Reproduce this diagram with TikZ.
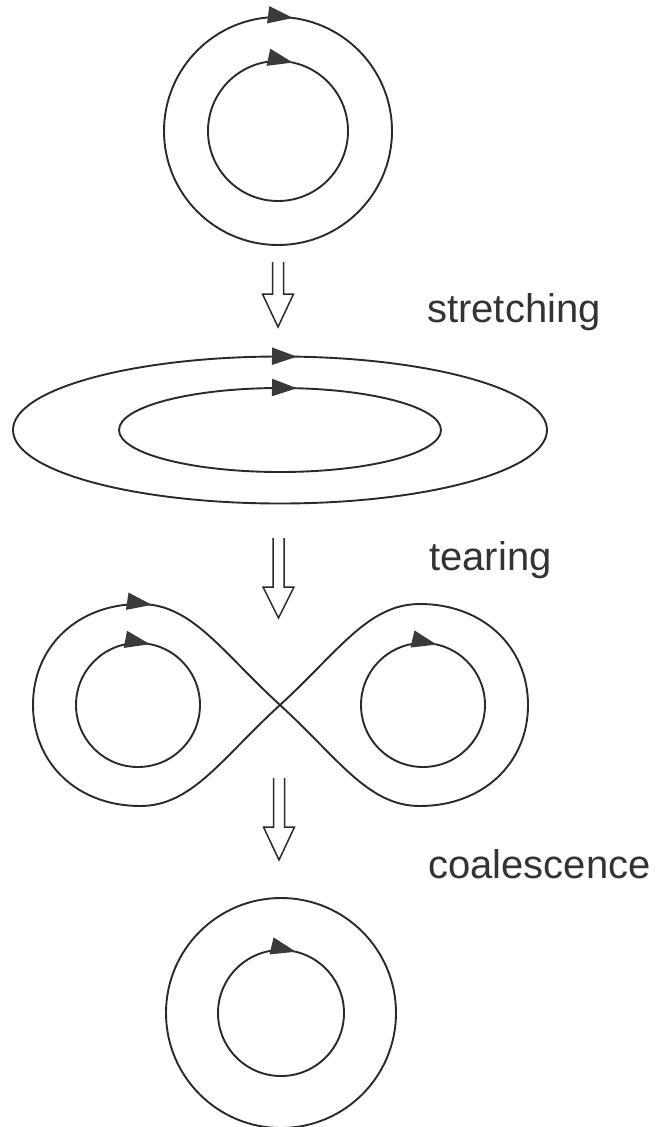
\documentclass[tikz,border=0pt]{standalone}
\usepackage{fontspec}
\setmainfont{Liberation Sans}
\usetikzlibrary{arrows.meta,decorations.markings}
\definecolor{ink}{HTML}{2A2A2A}
\definecolor{headink}{HTML}{3A3A3A}
\definecolor{txt}{HTML}{333333}
\tikzset{
  curve/.style={draw=ink,line width=1.9pt},
  marked/.style={postaction={decorate},decoration={markings,
     mark=at position #1 with {\arrow{Triangle[length=25pt,width=17pt,fill=headink,color=headink]}}}},
  hollow/.style={draw=ink,line width=1.5pt,line join=miter},
  label/.style={text=txt,inner sep=0pt,anchor=base west,font=\fontsize{40}{48}\selectfont}
}
\newcommand{\hollowdn}[4]{% x, ytop, ybase, ytip
  \draw[hollow] (#1-5.5,#2) -- (#1-5.5,#3) -- (#1-15.5,#3) -- (#1,#4) -- (#1+15.5,#3) -- (#1+5.5,#3) -- (#1+5.5,#2);}
\begin{document}
\begin{tikzpicture}[x=1pt,y=-1pt]
\useasboundingbox (0,0) rectangle (657,1127);
% top circles
\coordinate (c1) at (278,131);
\draw[curve,marked=15pt] (c1) ++(0,-114) arc[start angle=270,end angle=630,radius=114];
\draw[curve,marked=15pt] (c1) ++(0,-70) arc[start angle=270,end angle=630,radius=70];
% arrow 1
\hollowdn{278}{262}{294}{327}
\node[label] (t1) at (427,322) {stretching};
% ellipses
\coordinate (c2) at (280,430);
\draw[curve,marked=17pt] (c2) ++(0,-73.5) arc[start angle=270,end angle=630,x radius=267,y radius=73.5];
\draw[curve,marked=17pt] (c2) ++(0,-42) arc[start angle=270,end angle=630,x radius=161,y radius=42];
% arrow 2
\hollowdn{278.5}{538}{587}{618}
\node[label] (t2) at (429,570) {tearing};
% figure eight
\coordinate (T1) at (140,604);
\coordinate (C) at (280,705);
\coordinate (B2) at (420,806);
\coordinate (R2) at (528,705);
\coordinate (T2) at (420,604);
\coordinate (B1) at (140,806);
\coordinate (L1) at (33,705);
\draw[curve,marked=12pt] (T1) .. controls (192,604) and (221,651) .. (C)
  .. controls (339,759) and (368,806) .. (B2)
  .. controls (482,806) and (528,764) .. (R2)
  .. controls (528,646) and (482,604) .. (T2)
  .. controls (368,604) and (339,651) .. (C)
  .. controls (221,759) and (192,806) .. (B1)
  .. controls (78,806) and (33,764) .. (L1)
  .. controls (33,646) and (78,604) .. (T1) -- cycle;
\draw[curve,marked=12pt] (138,643) arc[start angle=270,end angle=630,radius=62];
\draw[curve,marked=14pt] (423,643) arc[start angle=270,end angle=630,radius=62];
% arrow 3
\hollowdn{279}{778}{827}{860}
\node[label] (t3) at (428,878) {coalescence};
% bottom circles
\coordinate (c4) at (281,1013);
\draw[curve] (c4) circle[radius=115];
\draw[curve,marked=15pt] (c4) ++(0,-63) arc[start angle=270,end angle=630,radius=63];
\end{tikzpicture}
\end{document}
